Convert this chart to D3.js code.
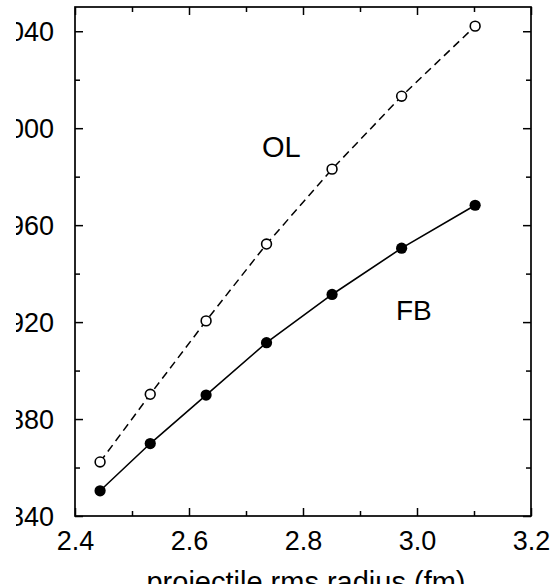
<!DOCTYPE html>
<html>
<head>
<meta charset="utf-8">
<script src="https://cdn.jsdelivr.net/npm/d3@7"></script>
<style>
  body { margin: 0; background: #fff; }
  text { font-family: "Liberation Sans", Arial, sans-serif; fill: #000; }
</style>
</head>
<body>
<div id="chart"></div>
<script>
// data
var radius = [2.444, 2.532, 2.630, 2.736, 2.851, 2.973, 3.102];
var olValues = [862.3, 890.2, 920.5, 952.2, 983.1, 1013.2, 1042.1];
var fbValues = [850.4, 869.9, 889.9, 911.5, 931.4, 950.5, 968.2];
var xTicks = [2.4, 2.6, 2.8, 3.0, 3.2];
var xMinor = [2.5, 2.7, 2.9, 3.1];
var yTicks = [840, 880, 920, 960, 1000, 1040];
var yMinor = [860, 900, 940, 980, 1020];

var svgWidth = 560, svgHeight = 584;
var margin = { top: 7, right: 29, bottom: 68, left: 75 };
var chartWidth = svgWidth - margin.left - margin.right;
var chartHeight = svgHeight - margin.top - margin.bottom;

var svg = d3.select('#chart').append('svg')
    .attr('width', svgWidth)
    .attr('height', svgHeight);

// the y labels are cut at the left side in the reference
svg.append('clipPath').attr('id', 'leftcut')
  .append('rect')
    .attr('x', 16 - margin.left).attr('y', -margin.top)
    .attr('width', svgWidth).attr('height', svgHeight);

var chartGroup = svg.append('g')
    .attr('transform', `translate(${margin.left}, ${margin.top})`);

var xscale = d3.scaleLinear().domain([2.4, 3.2]).range([0, chartWidth]);
var yscale = d3.scaleLinear().domain([840, 1050]).range([chartHeight, 0]);

var fmtX = d3.format('.1f');

// axes, ticks pointing inward
function styleAxis(g) {
    g.select('.domain').remove();
    g.selectAll('.tick line').attr('stroke', '#000').attr('stroke-width', 1.5);
    g.selectAll('.tick text').style('font-size', '27px');
}

chartGroup.append('g')
    .attr('transform', `translate(0, ${chartHeight})`)
    .call(d3.axisBottom(xscale).tickValues(xTicks).tickFormat(fmtX).tickSizeInner(-8).tickPadding(15))
    .call(styleAxis);
chartGroup.append('g')
    .attr('transform', `translate(0, ${chartHeight})`)
    .call(d3.axisBottom(xscale).tickValues(xMinor).tickFormat('').tickSizeInner(-5))
    .call(styleAxis);
chartGroup.append('g')
    .call(d3.axisTop(xscale).tickValues(xTicks).tickFormat('').tickSizeInner(-8))
    .call(styleAxis);
chartGroup.append('g')
    .call(d3.axisTop(xscale).tickValues(xMinor).tickFormat('').tickSizeInner(-5))
    .call(styleAxis);

chartGroup.append('g')
    .attr('clip-path', 'url(#leftcut)')
    .call(d3.axisLeft(yscale).tickValues(yTicks).tickSizeInner(-8).tickPadding(21))
    .call(styleAxis)
    .selectAll('.tick text').attr('dy', '0.36em');
chartGroup.append('g')
    .call(d3.axisLeft(yscale).tickValues(yMinor).tickFormat('').tickSizeInner(-5))
    .call(styleAxis);
chartGroup.append('g')
    .attr('transform', `translate(${chartWidth}, 0)`)
    .call(d3.axisRight(yscale).tickValues(yTicks).tickFormat('').tickSizeInner(-8))
    .call(styleAxis);
chartGroup.append('g')
    .attr('transform', `translate(${chartWidth}, 0)`)
    .call(d3.axisRight(yscale).tickValues(yMinor).tickFormat('').tickSizeInner(-5))
    .call(styleAxis);

// frame
chartGroup.append('rect')
    .attr('width', chartWidth)
    .attr('height', chartHeight)
    .attr('fill', 'none')
    .attr('stroke', '#000')
    .attr('stroke-width', 1.7);

var line = d3.line()
    .x(d => xscale(d[0]))
    .y(d => yscale(d[1]));

var olData = radius.map((r, i) => [r, olValues[i]]);
var fbData = radius.map((r, i) => [r, fbValues[i]]);

chartGroup.append('path')
    .datum(olData)
    .attr('d', line)
    .attr('fill', 'none')
    .attr('stroke', '#000')
    .attr('stroke-width', 1.5)
    .attr('stroke-dasharray', '8,5');

chartGroup.append('path')
    .datum(fbData)
    .attr('d', line)
    .attr('fill', 'none')
    .attr('stroke', '#000')
    .attr('stroke-width', 1.6);

chartGroup.selectAll('.ol')
    .data(olData)
    .enter()
    .append('circle')
    .attr('class', 'ol')
    .attr('cx', d => xscale(d[0]))
    .attr('cy', d => yscale(d[1]))
    .attr('r', 4.9)
    .attr('fill', '#fff')
    .attr('stroke', '#000')
    .attr('stroke-width', 1.6);

chartGroup.selectAll('.fb')
    .data(fbData)
    .enter()
    .append('circle')
    .attr('class', 'fb')
    .attr('cx', d => xscale(d[0]))
    .attr('cy', d => yscale(d[1]))
    .attr('r', 5.6)
    .attr('fill', '#000');

// curve labels
chartGroup.append('text')
    .attr('x', 262 - margin.left)
    .attr('y', 157 - margin.top)
    .style('font-size', '29px')
    .text('OL');

chartGroup.append('text')
    .attr('x', 396 - margin.left)
    .attr('y', 320 - margin.top)
    .style('font-size', '28px')
    .text('FB');

// x axis title, mostly below the bottom edge
chartGroup.append('text')
    .attr('x', chartWidth / 2 + 3)
    .attr('y', chartHeight + 76)
    .style('text-anchor', 'middle')
    .style('font-size', '29px')
    .text('projectile rms radius (fm)');
</script>
</body>
</html>
